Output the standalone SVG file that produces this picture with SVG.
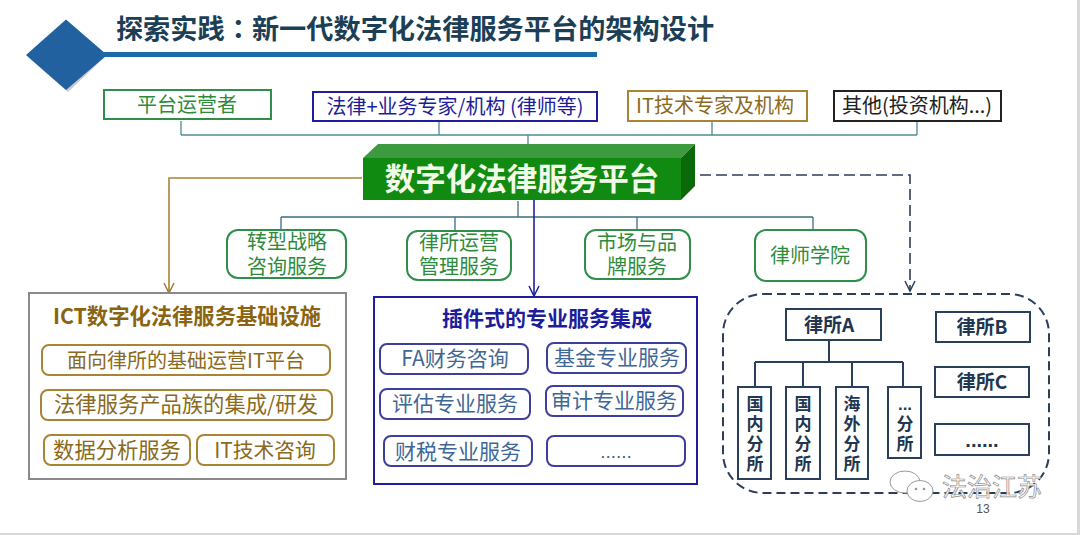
<svg xmlns="http://www.w3.org/2000/svg" width="1080" height="535" viewBox="0 0 1080 535">
<style>
text{font-family:"Noto Sans CJK SC","Liberation Sans",sans-serif;text-anchor:middle}
.t20{font-size:20px}
.t21{font-size:21px}
.gr{fill:#2e8b3a}.gs{stroke:#2f8f4a;stroke-width:2;fill:#fff}
.bl{fill:#1d1d9b}.bs{stroke:#1f1f9e;stroke-width:2;fill:#fff}
.sb{fill:#3f6796}.ss{stroke:#3d3f9e;stroke-width:2;fill:#fff}
.br{fill:#8a6a20}.brs{stroke:#a98433;stroke-width:2;fill:#fff}
.ns{stroke:#2a3f5c;stroke-width:2;fill:#fff}
.nt{fill:#22364f;font-weight:700}
.v{writing-mode:vertical-rl;text-anchor:start;letter-spacing:3px;font-size:17px;font-weight:700;fill:#22364f}
.c{fill:none;stroke-width:1.3}
</style>
<defs>
<marker id="ab" markerWidth="14" markerHeight="14" refX="11" refY="6" orient="auto" markerUnits="userSpaceOnUse"><path d="M1 1L11 6L1 11" fill="none" stroke="#1f1f9e" stroke-width="1.5"/></marker>
<marker id="ao" markerWidth="14" markerHeight="14" refX="11" refY="6" orient="auto" markerUnits="userSpaceOnUse"><path d="M1 1L11 6L1 11" fill="none" stroke="#a07c30" stroke-width="1.5"/></marker>
<marker id="an" markerWidth="14" markerHeight="14" refX="11" refY="6" orient="auto" markerUnits="userSpaceOnUse"><path d="M1 1L11 6L1 11" fill="none" stroke="#2a3f5c" stroke-width="1.5"/></marker>
</defs>
<rect width="1080" height="535" fill="#fff"/>
<rect x="1077" y="0" width="3" height="535" fill="#d8d8d8"/>
<rect x="0" y="533" width="1080" height="2" fill="#d8d8d8"/>
<g id="title">
<path d="M68 22L107 55L68 92L28 57Z" fill="#8a9aa8" opacity=".5"/>
<path d="M66 19.500L107 55L66 90L26 55Z" fill="#21619f"/>
<rect x="100" y="52" width="497" height="5" fill="#1c6aa8"/>
<text x="415" y="39" font-size="27.200" font-weight="700" fill="#1c3f56">探索实践<tspan font-family="Noto Sans CJK TC">：</tspan>新一代数字化法律服务平台的架构设计</text>
</g>
<g id="connectors">
<path class="c" stroke="#4f8a96" d="M181 135H917M181 121V135M439 121V135M712 121V135M917 121V135M528 135V145"/>
<path class="c" stroke="#3c6f80" d="M281 217H813M281 217V230M455 217V230M637 217V230M813 217V230M518 201V217"/>
<path fill="none" stroke="#a98433" stroke-width="1.6" d="M362 178H169V293" marker-end="url(#ao)"/>
<path fill="none" stroke="#1f1f9e" stroke-width="1.6" d="M534 199V296" marker-end="url(#ab)"/>
<path fill="none" stroke="#2a3f5c" stroke-width="1.6" stroke-dasharray="11 5" d="M700 175H910V291" marker-end="url(#an)"/>
<path fill="none" stroke="#2a3f5c" stroke-width="2" d="M829 340V362M755 362H903M755 362V387M803 362V387M852 362V387M903 362V387"/>
</g>
<g id="n-operator"><rect class="gs" x="104" y="90" width="167" height="29"/><text class="gr t20" x="187" y="112">平台运营者</text></g>
<g id="n-legal"><rect class="bs" x="313" y="92" width="284" height="29"/><text class="bl t20" x="455" y="114">法律+业务专家/机构 (律师等)</text></g>
<g id="n-it"><rect class="brs" x="628" y="91" width="179" height="30"/><text class="br t20" x="715" y="113">IT技术专家及机构</text></g>
<g id="n-other"><rect fill="#fff" stroke="#222" stroke-width="2" x="834" y="91" width="167" height="30"/><text fill="#222" class="t20" x="917" y="113">其他(投资机构...)</text></g>
<g id="n-platform">
<path d="M363 158L378 144H695L681 158Z" fill="#3e9a3e"/>
<path d="M681 158L695 144V186L681 200Z" fill="#0a6a0a"/>
<rect x="363" y="158" width="318" height="42" fill="#118a11"/>
<text x="522" y="190" font-size="30.500" font-weight="700" fill="#f2fbe8">数字化法律服务平台</text>
</g>
<g id="n-s1"><rect class="gs" x="227" y="230" width="119" height="48" rx="11"/><text class="gr t20" x="287" y="249">转型战略</text><text class="gr t20" x="287" y="274">咨询服务</text></g>
<g id="n-s2"><rect class="gs" x="407" y="231" width="104" height="49" rx="11"/><text class="gr t20" x="459" y="250">律所运营</text><text class="gr t20" x="459" y="274">管理服务</text></g>
<g id="n-s3"><rect class="gs" x="585" y="230" width="105" height="49" rx="11"/><text class="gr t20" x="637" y="250">市场与品</text><text class="gr t20" x="637" y="274">牌服务</text></g>
<g id="n-s4"><rect class="gs" x="755" y="230" width="111" height="51" rx="11"/><text class="gr t20" x="810" y="263">律师学院</text></g>
<g id="n-ict">
<rect x="29" y="293" width="317" height="186" fill="#fff" stroke="#8a8a8a" stroke-width="2"/>
<text x="187" y="324" font-size="21.300" font-weight="700" fill="#8a6410">ICT数字化法律服务基础设施</text>
</g>
<g id="n-i1"><rect class="brs" x="42" y="345" width="288" height="30" rx="7"/><text class="br t20" x="186" y="368">面向律所的基础运营IT平台</text></g>
<g id="n-i2"><rect class="brs" x="41" y="390" width="291" height="30" rx="7"/><text class="br" font-size="21.300" x="186" y="412">法律服务产品族的集成/研发</text></g>
<g id="n-i3"><rect class="brs" x="44" y="435" width="146" height="30" rx="7"/><text class="br" font-size="21.300" x="117" y="458">数据分析服务</text></g>
<g id="n-i4"><rect class="brs" x="197" y="435" width="137" height="30" rx="7"/><text class="br" font-size="20.800" x="265" y="458">IT技术咨询</text></g>
<g id="n-plugin">
<rect x="374" y="297" width="323" height="187" fill="#fff" stroke="#1f1f9e" stroke-width="2"/>
<text x="547" y="326" font-size="21" font-weight="700" fill="#1d1d9b">插件式的专业服务集成</text>
</g>
<g id="n-p1"><rect class="ss" x="380" y="344" width="148" height="30" rx="7"/><text class="sb t21" x="455" y="366">FA财务咨询</text></g>
<g id="n-p2"><rect class="ss" x="547" y="343" width="139" height="30" rx="7"/><text class="sb t21" x="617" y="365">基金专业服务</text></g>
<g id="n-p3"><rect class="ss" x="380" y="389" width="150" height="30" rx="7"/><text class="sb t21" x="455" y="411">评估专业服务</text></g>
<g id="n-p4"><rect class="ss" x="546" y="386" width="137" height="30" rx="7"/><text class="sb t21" x="614" y="408">审计专业服务</text></g>
<g id="n-p5"><rect class="ss" x="384" y="436" width="148" height="30" rx="7"/><text class="sb t21" x="458" y="459">财税专业服务</text></g>
<g id="n-p6"><rect class="ss" x="547" y="436" width="138" height="30" rx="7"/><text class="sb" font-size="19" x="616" y="458" style="font-family:'Liberation Sans',sans-serif">......</text></g>
<g id="n-firms"><rect x="723" y="294" width="326" height="199" rx="40" fill="none" stroke="#2a3f5c" stroke-width="2" stroke-dasharray="9 5"/></g>
<g id="n-a"><rect class="ns" x="786" y="309" width="95" height="31"/><text class="nt" font-size="19" x="829" y="332">律所A</text></g>
<g id="n-b"><rect class="ns" x="936" y="312" width="94" height="30"/><text class="nt" font-size="19" x="982" y="334">律所B</text></g>
<g id="n-c"><rect class="ns" x="935" y="367" width="94" height="30"/><text class="nt" font-size="19" x="982" y="389">律所C</text></g>
<g id="n-d"><rect class="ns" x="935" y="424" width="94" height="31"/><text class="nt" font-size="20" x="982" y="447" style="font-family:'Liberation Sans',sans-serif">......</text></g>
<g id="n-a1"><rect class="ns" x="738" y="387" width="33" height="92"/><text class="v" x="755" y="395">国内分所</text></g>
<g id="n-a2"><rect class="ns" x="786" y="387" width="34" height="92"/><text class="v" x="803" y="395">国内分所</text></g>
<g id="n-a3"><rect class="ns" x="836" y="387" width="32" height="92"/><text class="v" x="852" y="395">海外分所</text></g>
<g id="n-a4"><rect class="ns" x="888" y="387" width="33" height="71"/><text class="nt" font-size="17" x="905" y="410" style="font-family:'Liberation Sans',sans-serif">...</text><text class="v" x="905" y="415">分所</text></g>
<g id="watermark">
<ellipse cx="905" cy="482" rx="15" ry="11" fill="#fff" stroke="#9a9a9a"/><ellipse cx="920" cy="491" rx="13" ry="10.500" fill="#fff" stroke="#9a9a9a"/>
<circle cx="916" cy="489" r="1.300" fill="#9a9a9a"/><circle cx="924" cy="489" r="1.300" fill="#9a9a9a"/>
<text x="992" y="496" font-size="25" fill="#fff" stroke="#8a8a8a" stroke-width=".7">法治江苏</text>
<text x="983" y="513" font-size="12" fill="#555" style="font-family:'Liberation Sans',sans-serif">13</text>
</g>
</svg>
